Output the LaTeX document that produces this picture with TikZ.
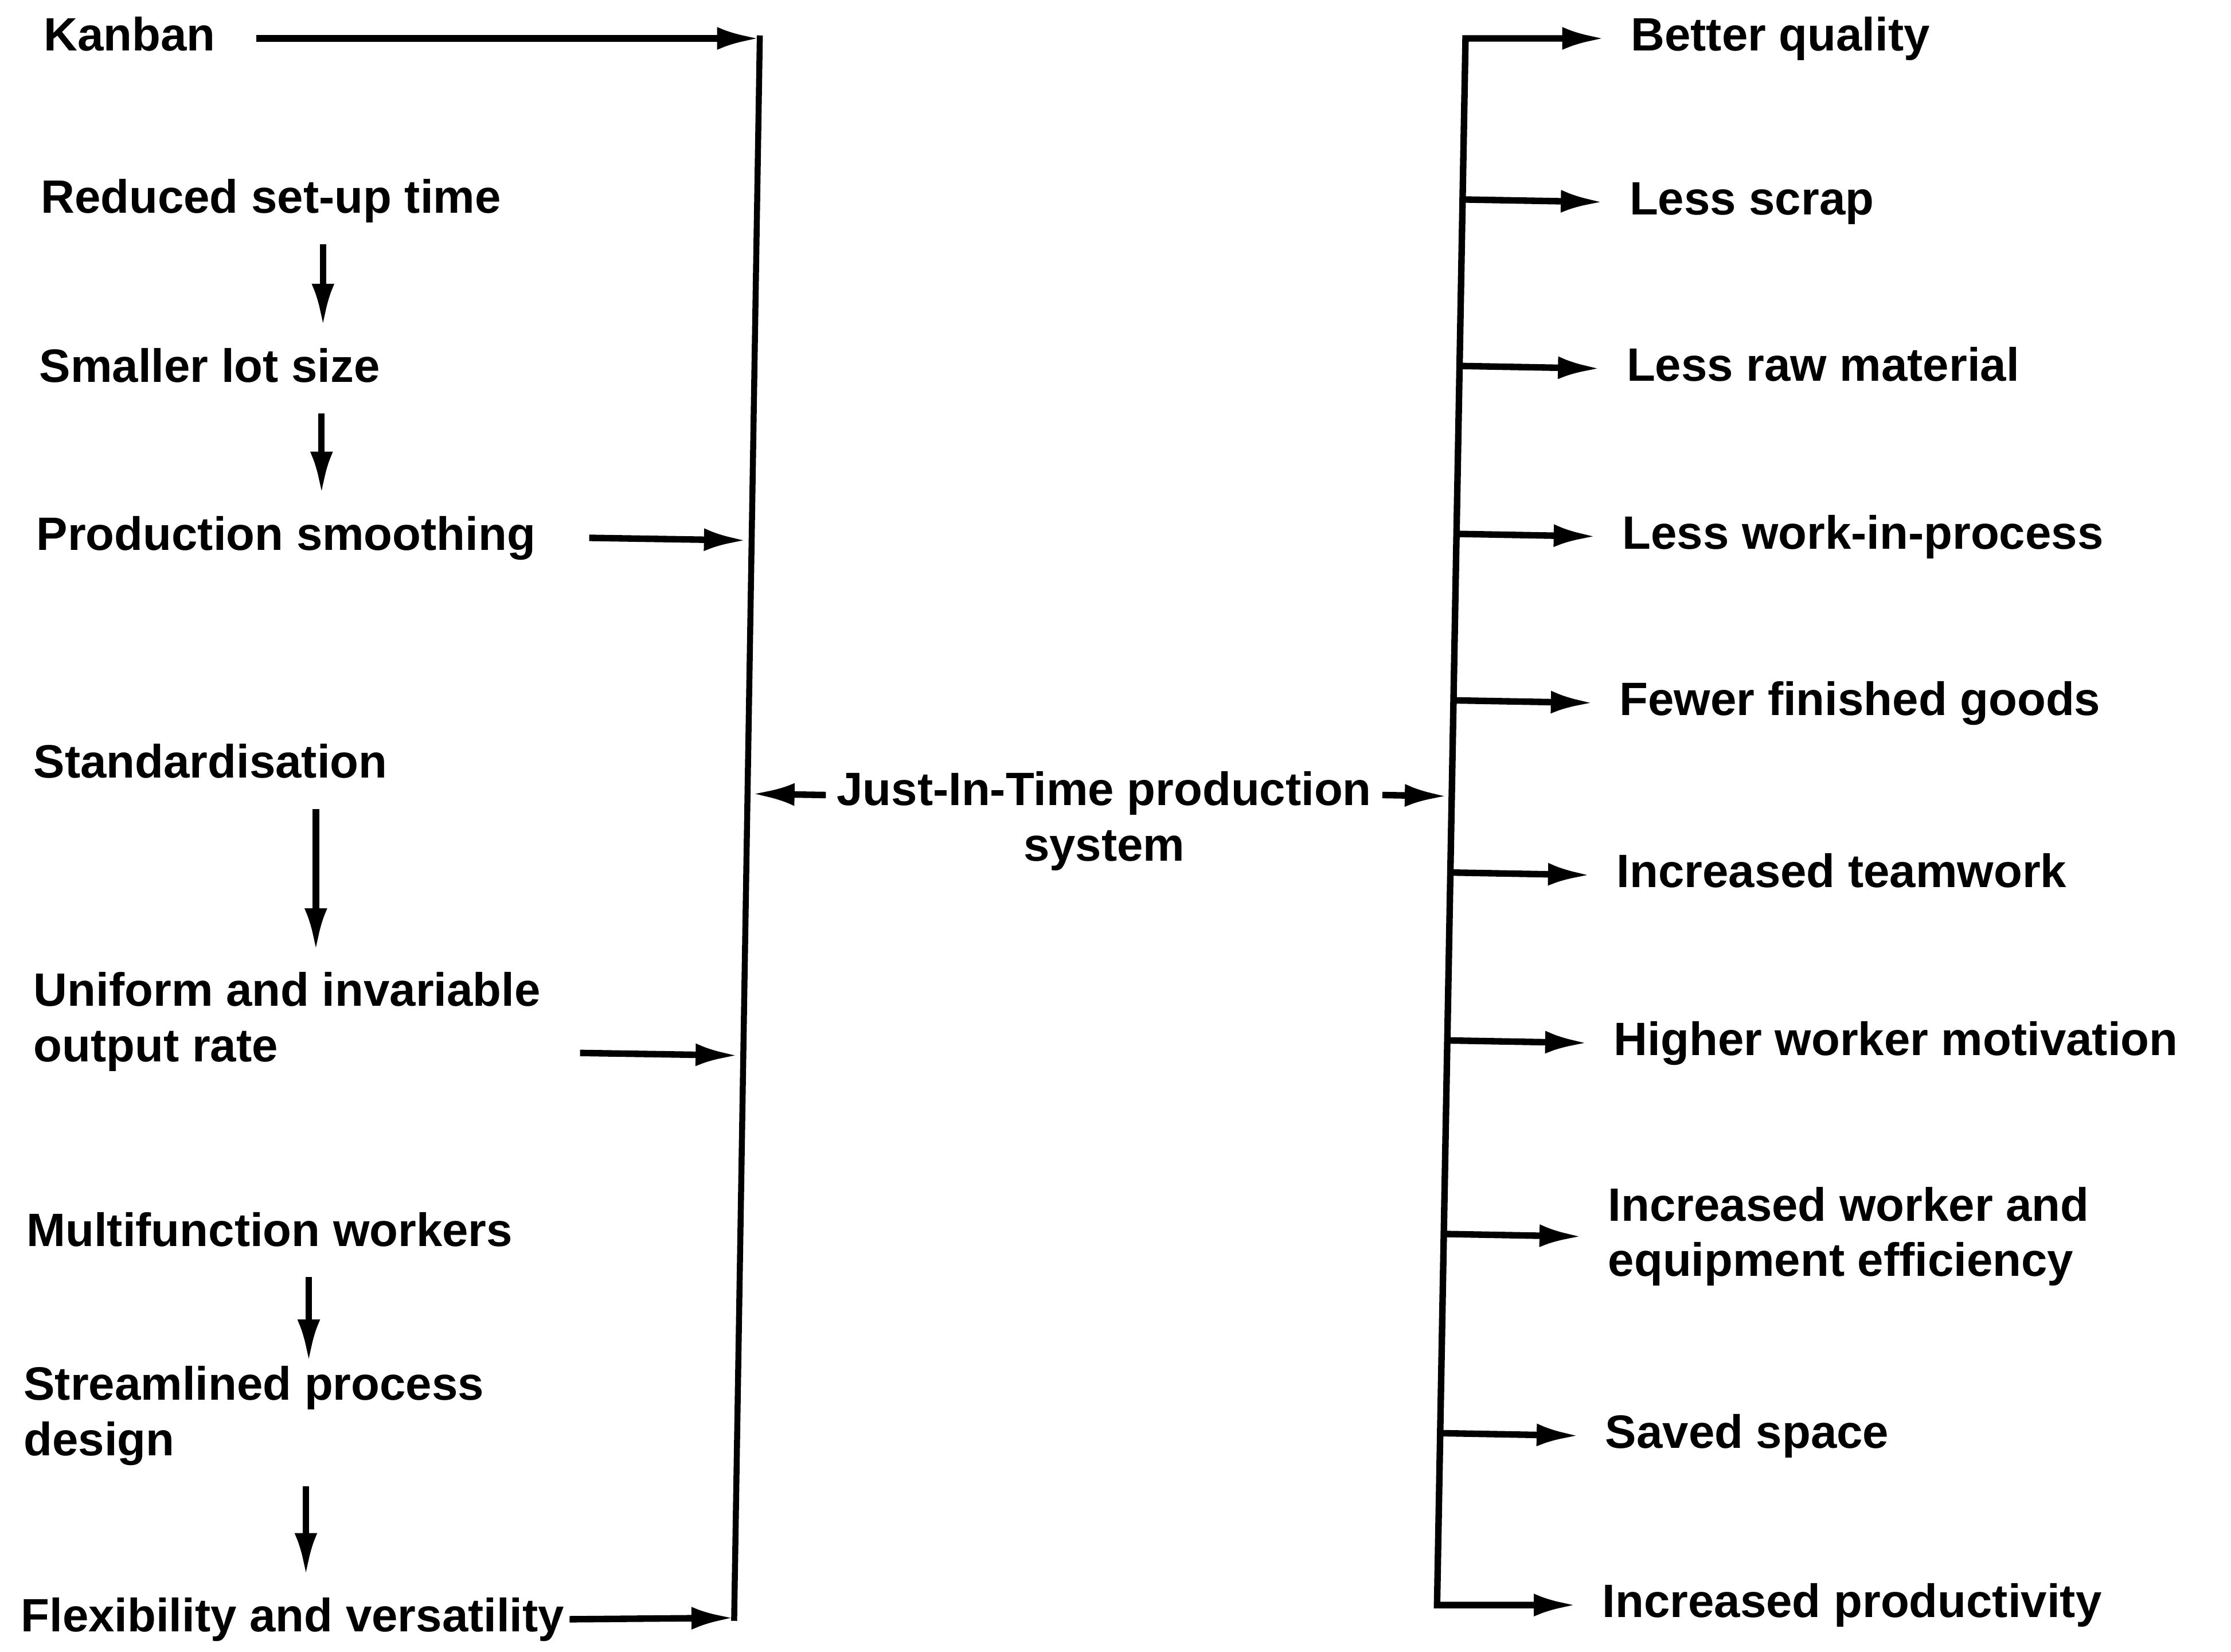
\documentclass[tikz,border=0pt]{standalone}
\usepackage{fontspec}
\setmainfont{Liberation Sans}
\usetikzlibrary{arrows.meta,calc}
\tikzset{jitTip/.tip={Latex[length=3mm, width=1.6mm]}}
\tikzstyle{chart} = [x = .01cm, y = -.01cm]
\tikzstyle{flowArrow} = [line width=1.3pt, -jitTip]
\tikzstyle{barLine} = [line width=1.2pt, line cap=rect]
\tikzstyle{factor} = [anchor=west, inner xsep=0pt, inner ysep=4pt, text height=7pt, text depth=2pt]
\tikzstyle{factorTwo} = [anchor=west, inner xsep=0pt, inner ysep=4pt, align=left]
\tikzstyle{result} = [anchor=west, inner xsep=5pt, text height=7pt, text depth=2pt]
\tikzstyle{resultTwo} = [anchor=west, inner xsep=5pt, align=left]
\newcommand{\chartFont}{\fontsize{9.35}{11.1}\selectfont\bfseries}
\newcommand{\stepDown}[3][]{\draw [flowArrow, #1] ($(#2.south west) + (199,0)$) coordinate (stepTop) -- (stepTop |- #3.north);}
\begin{document}
\begin{tikzpicture}[chart, every node/.style={font=\chartFont}]
    \useasboundingbox (0,0) rectangle (1568,1161);
    % causes
    \node [factor] (kanban) at (30,27) {Kanban};
    \node [factor] (setup) at (28,141) {Reduced set-up time};
    \node [factor] (lotsize) at (27,260) {Smaller lot size};
    \node [factor] (smoothing) at (25,378) {Production smoothing};
    \node [factor] (standard) at (23,538) {Standardisation};
    \node [factorTwo] (uniform) at (23,718) {Uniform and invariable\\output rate};
    \node [factor] (multi) at (18,867) {Multifunction workers};
    \node [factorTwo] (stream) at (16,995) {Streamlined process\\design};
    \node [factor] (flex) at (14,1138) {Flexibility and versatility};
    \stepDown{setup}{lotsize}
    \stepDown{lotsize}{smoothing}
    \stepDown{standard}{uniform}
    \stepDown[shorten >=-.12cm]{multi}{stream}
    \stepDown{stream}{flex}
    % left bar
    \coordinate (ltop) at (534,27);
    \coordinate (lbot) at (516,1137);
    \draw [barLine] (ltop) -- (lbot);
    \draw [flowArrow] ($(kanban.east) + (28,0)$) -- (ltop);
    \draw [flowArrow, shorten >=.35mm] ($(smoothing.east) + (37,0)$) coordinate (smoothTail) -- ($(ltop)!(smoothTail)!(lbot)$);
    \draw [flowArrow, shorten >=.35mm] ($(uniform.east) + (27,22)$) coordinate (uniTail) -- ($(ltop)!(uniTail)!(lbot)$);
    \draw [flowArrow] ($(flex.east) + (3,0)$) -- (lbot);
    % centre
    \node [inner xsep=2pt, align=center] (jit) at (776,577) {Just-In-Time production\\system};
    \coordinate (rtop) at (1030,27);
    \coordinate (rbot) at (1010,1128);
    \draw [flowArrow, shorten >=.3mm] ($(jit.north west) + (0,29)$) coordinate (jitL) -- ($(ltop)!(jitL)!(lbot)$);
    \draw [flowArrow, shorten >=.3mm] ($(jit.north east) + (0,29)$) coordinate (jitR) -- ($(rtop)!(jitR)!(rbot)$);
    % effects
    \node [result] (quality) at (1128,27) {Better quality};
    \node [result] (scrap) at (1127,142) {Less scrap};
    \node [result] (rawmat) at (1125,259) {Less raw material};
    \node [result] (wip) at (1122,377) {Less work-in-process};
    \node [result] (finished) at (1120,494) {Fewer finished goods};
    \node [result] (teamwork) at (1118,615) {Increased teamwork};
    \node [result] (motivation) at (1116,733) {Higher worker motivation};
    \node [resultTwo] (efficiency) at (1112,869) {Increased worker and\\equipment efficiency};
    \node [result] (space) at (1110,1009) {Saved space};
    \node [result] (productivity) at (1108,1128) {Increased productivity};
    \draw [flowArrow, jitTip-jitTip] (quality.west) -- (rtop) -- (rbot) -- (productivity.west);
    \foreach \effect in {scrap, rawmat, wip, finished, teamwork, motivation, efficiency, space}
      \draw [flowArrow] ($(rtop)!(\effect.west)!(rbot)$) -- (\effect.west);
\end{tikzpicture}
\end{document}
